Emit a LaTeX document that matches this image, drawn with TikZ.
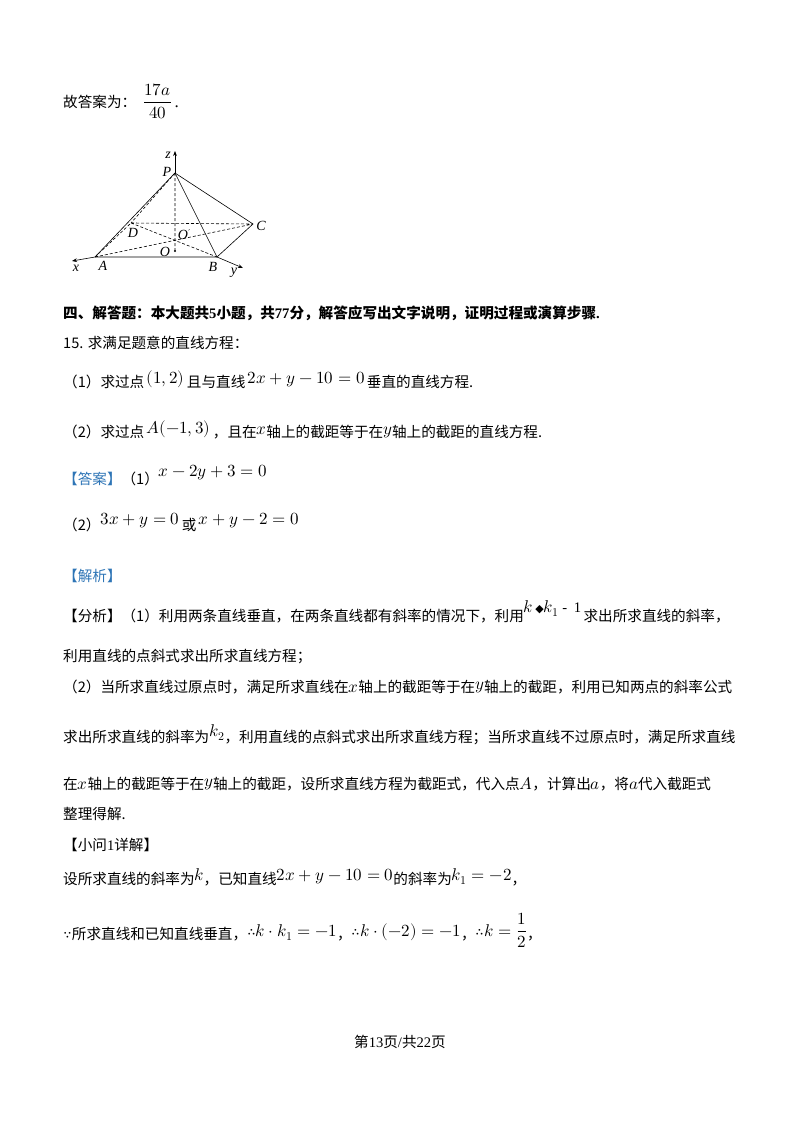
\documentclass[tikz,border=0pt]{standalone}
\usetikzlibrary{arrows.meta}
\usepackage{amsmath}
\usepackage{fontspec}
\usepackage{unicode-math}
\setmainfont{Liberation Serif}
\setmathfont{Latin Modern Math}
\newfontfamily\cjk{Noto Sans CJK SC}
\newfontfamily\djv{DejaVu Sans}
\newcommand\mm[1]{{\fontsize{17}{18}\selectfont$#1$}}
\begin{document}
\begin{tikzpicture}[x=1pt,y=-1pt,
  txt/.style={anchor=base west,inner sep=0pt,font=\cjk\fontsize{14.6}{16}\selectfont},
  lbl/.style={inner sep=0pt,font=\fontsize{14}{15}\selectfont\itshape},
  ax/.style={-{Stealth[length=5pt]},line width=0.6pt},
  ed/.style={line width=0.6pt},
  hd/.style={ed,dash pattern=on 3pt off 2pt}]
\useasboundingbox (0,0) rectangle (800,1132);
\definecolor{ans}{RGB}{46,117,182}
\node[txt] (g) at (63,107) {故答案为：};
\node[anchor=base west,inner sep=0pt,font=\fontsize{17}{18}\selectfont] (fr) at (143,107) {$\dfrac{17a}{40}$\,.};
\coordinate (P) at (175,173);
\coordinate (Z) at (175,151);
\coordinate (A) at (95,257);
\coordinate (X) at (72,261);
\coordinate (B) at (217,257);
\coordinate (Y) at (243,268);
\coordinate (C) at (253,224);
\coordinate (D) at (131,223);
\coordinate (Op) at (175,224);
\coordinate (O) at (175,251);
\draw[ax] (P) -- (Z);
\draw[ax] (A) -- (X);
\draw[ax] (B) -- (Y);
\draw[ed] (A) -- (B) -- (C) -- (P) -- (A);
\draw[ed] (P) -- (B);
\draw[hd] (P) -- (D) (P) -- (O) (D) -- (C) (D) -- (B) (A) -- (C) (A) -- (D);
\fill (O) circle (1.2pt);
\node[lbl] (lz) at (168,155) {z};
\node[lbl] (lP) at (167,172) {P};
\node[lbl] (lD) at (133,233) {D};
\node[lbl] (lOp) at (184,235) {O\kern0.3pt\raisebox{4pt}{\djv\upshape\fontsize{8}{8}\selectfont ′}};
\node[lbl] (lO) at (165,252) {O};
\node[lbl] (lC) at (261,226) {C};
\node[lbl] (lA) at (103,266) {A};
\node[lbl] (lx) at (76,268) {x};
\node[lbl] (lB) at (213,267) {B};
\node[lbl] (ly) at (234,273) {y};
\node[txt,font=\cjk\bfseries\fontsize{14.6}{16}\selectfont] (h) at (63,318) {四、解答题：本大题共\textrm{5}小题，共\textrm{77}分，解答应写出文字说明，证明过程或演算步骤\textrm{.}};
\node[txt] (q) at (63,348) {15. 求满足题意的直线方程：};
\node[txt] (q1) at (63,387) {（1）求过点\,\raisebox{4pt}{\mm{(1,2)}}\,且与直线\,\raisebox{4pt}{\mm{2x+y-10=0}}\,垂直的直线方程.};
\node[txt] (q2) at (63,437) {（2）求过点\,\raisebox{4pt}{\mm{A(-1,3)}}\,，且在\raisebox{3pt}{\mm{x}}轴上的截距等于在\raisebox{3pt}{\mm{y}}轴上的截距的直线方程.};
\node[txt] (a1) at (63,484) {\textcolor{ans}{【答案】}（1）\raisebox{8pt}{\mm{x-2y+3=0}}};
\node[txt] (a2) at (63,530) {（2）\raisebox{6pt}{\mm{3x+y=0}}\,或\,\raisebox{6pt}{\mm{x+y-2=0}}};
\node[txt] (j) at (63,581) {\textcolor{ans}{【解析】}};
\node[txt] (f1) at (63,621) {【分析】（1）利用两条直线垂直，在两条直线都有斜率的情况下，利用\raisebox{9pt}{\mm{k}\,{\djv\fontsize{11}{11}\selectfont ◆}\mm{k_1}\ \textrm{-}\ \ \textrm{1}}\,求出所求直线的斜率，};
\node[txt] (f2) at (63,661) {利用直线的点斜式求出所求直线方程；};
\node[txt] (f3) at (63,692) {（2）当所求直线过原点时，满足所求直线在\mm{x}轴上的截距等于在\raisebox{3pt}{\mm{y}}轴上的截距，利用已知两点的斜率公式};
\node[txt] (f4) at (63,742) {求出所求直线的斜率为\raisebox{6pt}{\mm{k_2}}，利用直线的点斜式求出所求直线方程；当所求直线不过原点时，满足所求直线};
\node[txt] (f5) at (63,789) {在\mm{x}轴上的截距等于在\raisebox{3pt}{\mm{y}}轴上的截距，设所求直线方程为截距式，代入点\mm{A}，计算出\mm{a}，将\mm{a}代入截距式};
\node[txt] (f6) at (63,819) {整理得解.};
\node[txt] (s) at (63,850) {【小问\textrm{1}详解】};
\node[txt] (s1) at (63,884) {设所求直线的斜率为\raisebox{4pt}{\mm{k}}，已知直线\raisebox{4pt}{\mm{2x+y-10=0}}的斜率为\raisebox{4pt}{\mm{k_1=-2}}，};
\node[txt] (s2) at (63,939) {\mm{\because}所求直线和已知直线垂直，\raisebox{3pt}{\mm{\therefore k\cdot k_1=-1}}，\raisebox{3pt}{\mm{\therefore k\cdot(-2)=-1}}，\raisebox{3pt}{\mm{\therefore k=\dfrac{1}{2}}}，};
\node[txt,anchor=base] (pg) at (400,1047) {第\textrm{13}页\textrm{/}共\textrm{22}页};
\end{tikzpicture}
\end{document}
